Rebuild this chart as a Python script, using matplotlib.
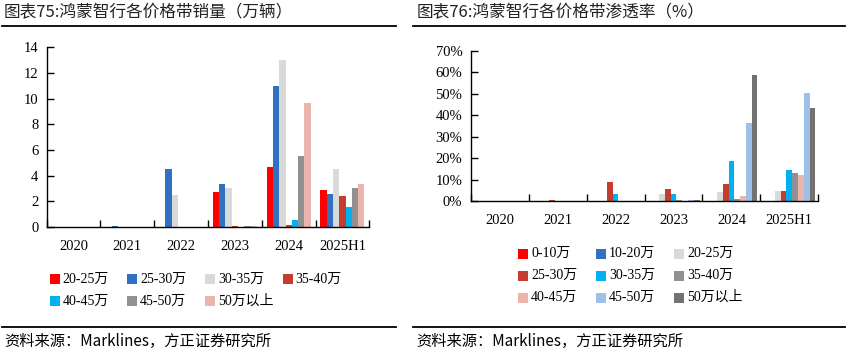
import matplotlib
matplotlib.use("Agg")
import matplotlib.pyplot as plt
from matplotlib.patches import Rectangle
from matplotlib.lines import Line2D
import numpy as np

plt.rcParams['font.family'] = ['Liberation Serif', 'Noto Sans CJK SC', 'DejaVu Sans']

years = ["2020", "2021", "2022", "2023", "2024", "2025H1"]

# Left chart: sales by price band (10k units)
left_labels = ["20-25万", "25-30万", "30-35万", "35-40万", "40-45万", "45-50万", "50万以上"]
left_colors = ["#FF0000", "#3071C2", "#D9D9D9", "#C43D2F", "#00B0F0", "#919191", "#EBB4AD"]
s_20_25 = [0, 0, 0, 2.73, 4.68, 2.88]
s_25_30 = [0, 0.1, 4.52, 3.35, 10.99, 2.57]
s_30_35 = [0, 0, 2.52, 3.04, 13.01, 4.52]
s_35_40 = [0, 0, 0, 0.08, 0.16, 2.42]
s_40_45 = [0, 0, 0, 0, 0.55, 1.56]
s_45_50 = [0, 0, 0, 0.08, 5.53, 3.04]
s_50p = [0, 0, 0, 0.08, 9.66, 3.35]
left_series = [s_20_25, s_25_30, s_30_35, s_35_40, s_40_45, s_45_50, s_50p]
left_yticks = [0, 2, 4, 6, 8, 10, 12, 14]

# Right chart: penetration by price band (%)
right_labels = ["0-10万", "10-20万", "20-25万", "25-30万", "30-35万", "35-40万", "40-45万", "45-50万", "50万以上"]
right_colors = ["#FF0000", "#3071C2", "#D9D9D9", "#C43D2F", "#00B0F0", "#919191", "#EBB4AD", "#9DC0E8", "#767171"]
p_0_10 = [0, 0, 0, 0, 0, 0]
p_10_20 = [0, 0, 0, 0, 0, 0]
p_20_25 = [0, 0, 0, 3.4, 4.3, 4.8]
p_25_30 = [0, 0.5, 8.8, 5.6, 8.0, 4.8]
p_30_35 = [0, 0, 3.4, 3.4, 18.7, 14.6]
p_35_40 = [0, 0, 0, 0.6, 1.1, 13.2]
p_40_45 = [0, 0, 0, 0, 2.5, 12.2]
p_45_50 = [0, 0, 0, 0.6, 36.4, 50.3]
p_50p = [0, 0, 0, 0.6, 58.7, 43.3]
right_series = [p_0_10, p_10_20, p_20_25, p_25_30, p_30_35, p_35_40, p_40_45, p_45_50, p_50p]
right_yticks = [0, 10, 20, 30, 40, 50, 60, 70]

W, H = 847, 353
fig = plt.figure(figsize=(W / 100, H / 100), dpi=100)


def ax_rect(x0, x1, ytop, ybot):
    return [x0 / W, 1 - ybot / H, (x1 - x0) / W, (ybot - ytop) / H]


def setup(ax, n):
    ax.set_xlim(-0.5, n - 0.5)
    for s in ["top", "right"]:
        ax.spines[s].set_visible(False)
    for s in ["left", "bottom"]:
        ax.spines[s].set_linewidth(1.0)
        ax.spines[s].set_color("black")
    ax.set_xticks(np.arange(n + 1) - 0.5)
    ax.set_xticklabels([])
    ax.set_xticks(np.arange(n), minor=True)
    ax.set_xticklabels(years, minor=True, fontsize=10.5)
    ax.tick_params(axis="x", which="major", direction="in", length=5, width=1)
    ax.tick_params(axis="x", which="minor", length=0, pad=9)
    ax.tick_params(axis="y", direction="in", length=5, width=1, labelsize=10.5, pad=6)


def bars(ax, series, colors, frac):
    n = len(series)
    w = frac / n
    x = np.arange(len(years))
    for i, (vals, c) in enumerate(zip(series, colors)):
        ax.bar(x - frac / 2 + w * (i + 0.5), vals, width=w, color=c, linewidth=0)


# Left axes
ax1 = fig.add_axes(ax_rect(46.7, 369.3, 47.3, 227))
bars(ax1, left_series, left_colors, 0.82)
setup(ax1, len(years))
ax1.set_ylim(0, 14)
ax1.set_yticks(left_yticks)
ax1.set_yticklabels([str(v) for v in left_yticks])

# Right axes
ax2 = fig.add_axes(ax_rect(470.7, 818.3, 50.7, 201.3))
bars(ax2, right_series, right_colors, 0.9)
setup(ax2, len(years))
ax2.set_ylim(0, 70)
ax2.set_yticks(right_yticks)
ax2.set_yticklabels([f"{v}%" for v in right_yticks])


def legend(labels, colors, ncol, x0, dx, y0, dy):
    for i, (lab, c) in enumerate(zip(labels, colors)):
        r, k = divmod(i, ncol)
        x = x0 + k * dx
        y = y0 + r * dy
        fig.add_artist(Rectangle((x / W, 1 - (y + 5) / H), 10 / W, 10 / H,
                                 transform=fig.transFigure, facecolor=c, edgecolor="none"))
        fig.text((x + 13) / W, 1 - y / H, lab, fontsize=10, va="center", ha="left")


legend(left_labels, left_colors, 4, 49.5, 77.7, 279, 22)
legend(right_labels, right_colors, 3, 518, 78, 253.5, 22)

cjk = ['Noto Sans CJK SC', 'DejaVu Sans']


def hline(x0, x1, y, lw=1.3):
    fig.add_artist(Line2D([x0 / W, x1 / W], [1 - y / H, 1 - y / H], transform=fig.transFigure,
                          color="black", linewidth=lw))


fig.text(4 / W, 1 - 13 / H, "图表75:鸿蒙智行各价格带销量（万辆）", family=cjk, fontsize=12,
         va="center", ha="left", color="#222222")
fig.text(417 / W, 1 - 13 / H, "图表76:鸿蒙智行各价格带渗透率（%）", family=cjk, fontsize=12,
         va="center", ha="left", color="#222222")
hline(2, 396, 26)
hline(413, 845, 26)
hline(2, 396, 327)
hline(413, 845, 327)
fig.text(4 / W, 1 - 341 / H, "资料来源：Marklines，方正证券研究所", family=cjk, fontsize=11,
         va="center", ha="left", style="italic")
fig.text(416 / W, 1 - 341 / H, "资料来源：Marklines，方正证券研究所", family=cjk, fontsize=11,
         va="center", ha="left", style="italic")

fig.savefig("out.png", dpi=100)
